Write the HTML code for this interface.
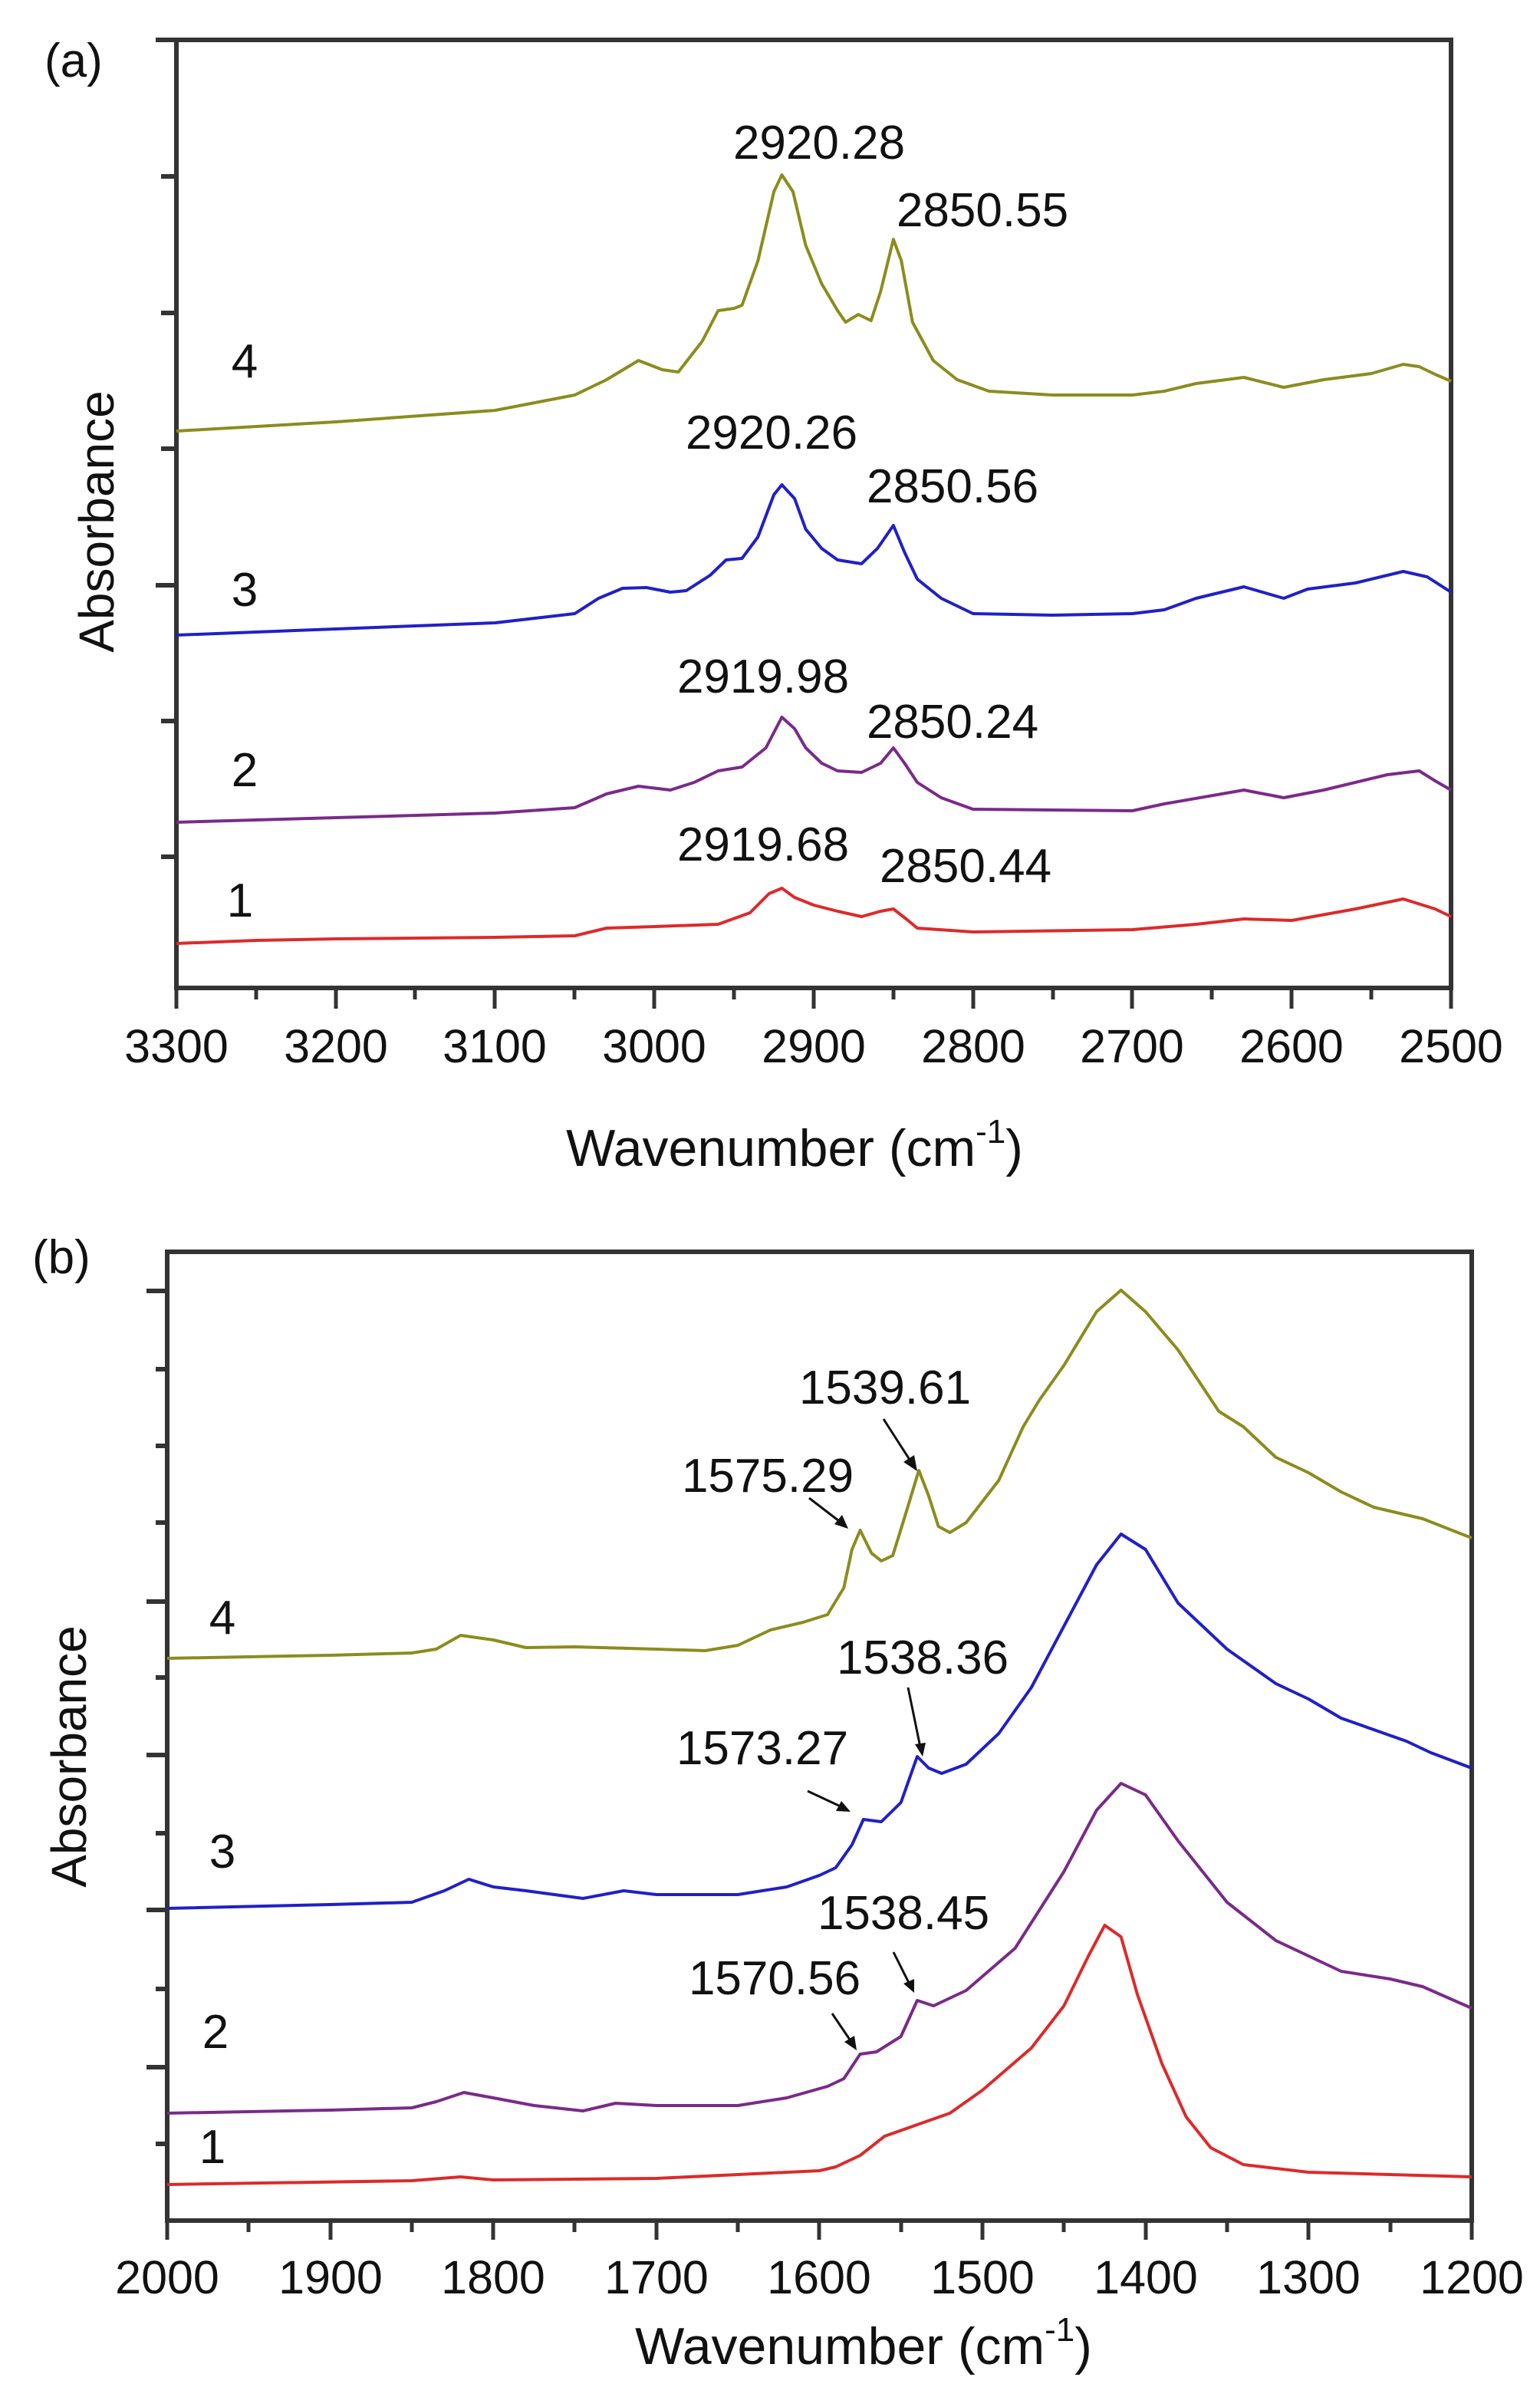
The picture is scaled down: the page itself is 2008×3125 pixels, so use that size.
<!DOCTYPE html>
<html><head><meta charset="utf-8"><style>
html,body{margin:0;padding:0;background:#fff;}
svg{display:block;}
text{font-family:"Liberation Sans",Arial,sans-serif;fill:#111;}
</style></head><body>
<svg width="2008" height="3125" viewBox="0 0 2008 3125" xmlns="http://www.w3.org/2000/svg">
<rect width="2008" height="3125" fill="#fff"/>

<!-- ===== Panel A ===== -->
<g stroke="#333" stroke-width="6" fill="none">
<rect x="230" y="52" width="1662" height="1236"/>
<line x1="203" y1="52" x2="230" y2="52"/>
<line x1="210" y1="230" x2="230" y2="230"/>
<line x1="210" y1="408" x2="230" y2="408"/>
<line x1="210" y1="585" x2="230" y2="585"/>
<line x1="203" y1="763" x2="230" y2="763"/>
<line x1="210" y1="940" x2="230" y2="940"/>
<line x1="210" y1="1117" x2="230" y2="1117"/>
</g>
<g stroke="#333" stroke-width="5">
<line x1="230" y1="1288" x2="230" y2="1315"/><line x1="334" y1="1288" x2="334" y2="1303"/>
<line x1="438" y1="1288" x2="438" y2="1315"/><line x1="541" y1="1288" x2="541" y2="1303"/>
<line x1="645" y1="1288" x2="645" y2="1315"/><line x1="749" y1="1288" x2="749" y2="1303"/>
<line x1="853" y1="1288" x2="853" y2="1315"/><line x1="957" y1="1288" x2="957" y2="1303"/>
<line x1="1061" y1="1288" x2="1061" y2="1315"/><line x1="1165" y1="1288" x2="1165" y2="1303"/>
<line x1="1269" y1="1288" x2="1269" y2="1315"/><line x1="1373" y1="1288" x2="1373" y2="1303"/>
<line x1="1476" y1="1288" x2="1476" y2="1315"/><line x1="1580" y1="1288" x2="1580" y2="1303"/>
<line x1="1684" y1="1288" x2="1684" y2="1315"/><line x1="1788" y1="1288" x2="1788" y2="1303"/>
<line x1="1892" y1="1288" x2="1892" y2="1315"/>
</g>
<g font-size="61" text-anchor="middle">
<text x="230" y="1385">3300</text><text x="438" y="1385">3200</text><text x="645" y="1385">3100</text>
<text x="853" y="1385">3000</text><text x="1061" y="1385">2900</text><text x="1269" y="1385">2800</text>
<text x="1476" y="1385">2700</text><text x="1684" y="1385">2600</text><text x="1892" y="1385">2500</text>
</g>
<text x="1036" y="1520" font-size="68" text-anchor="middle">Wavenumber (cm<tspan font-size="44" dy="-30">-1</tspan><tspan dy="30">)</tspan></text>
<text transform="translate(148,680) rotate(-90)" font-size="64" text-anchor="middle">Absorbance</text>
<text x="58" y="100" font-size="62">(a)</text>

<g transform="translate(230,0) scale(-2.0775,1) translate(-3300,0)" fill="none" stroke-width="4" stroke-linejoin="round">
<polyline vector-effect="non-scaling-stroke" stroke="#8c8c1e" points="3300,562 3200,550 3100,535 3050,515 3030,495 3010,470 2995,482 2985,485 2970,445 2960,405 2950,402 2945,398 2935,340 2925,250 2920,228 2913,250 2905,320 2895,370 2885,405 2880,420 2872,410 2864,418 2858,380 2850,312 2845,340 2838,420 2825,470 2810,495 2790,510 2750,515 2700,515 2680,510 2660,500 2630,492 2605,505 2580,495 2550,487 2530,475 2520,478 2510,488 2500,497"/>
<polyline vector-effect="non-scaling-stroke" stroke="#2020c8" points="3300,828 3200,820 3100,812 3050,800 3035,780 3020,767 3005,766 2990,772 2980,770 2965,750 2955,730 2945,728 2935,700 2925,645 2920,632 2912,650 2905,690 2895,715 2885,730 2870,735 2860,715 2850,685 2843,720 2835,755 2820,780 2800,800 2750,802 2700,800 2680,795 2660,780 2630,765 2605,780 2590,768 2560,760 2530,745 2515,752 2500,772"/>
<polyline vector-effect="non-scaling-stroke" stroke="#7a2a8a" points="3300,1072 3200,1066 3100,1060 3050,1053 3030,1035 3010,1025 2990,1030 2975,1020 2960,1005 2945,1000 2930,975 2920,935 2912,950 2905,975 2895,995 2885,1005 2870,1007 2858,995 2850,975 2843,995 2835,1020 2820,1040 2800,1055 2700,1057 2680,1048 2630,1030 2605,1040 2580,1030 2540,1010 2520,1005 2510,1018 2500,1030"/>
<polyline vector-effect="non-scaling-stroke" stroke="#dd2a2a" points="3300,1230 3250,1226 3200,1224 3100,1222 3050,1220 3030,1210 3000,1208 2960,1205 2940,1190 2928,1165 2920,1158 2912,1170 2900,1180 2885,1188 2870,1195 2858,1188 2850,1185 2842,1198 2835,1210 2800,1215 2700,1212 2660,1205 2630,1198 2600,1200 2560,1185 2530,1172 2510,1185 2500,1195"/>
</g>
<g font-size="62" text-anchor="middle">
<text x="1068" y="207">2920.28</text><text x="1281" y="295">2850.55</text>
<text x="1006" y="585">2920.26</text><text x="1242" y="655">2850.56</text>
<text x="995" y="903">2919.98</text><text x="1242" y="962">2850.24</text>
<text x="995" y="1122">2919.68</text><text x="1259" y="1150">2850.44</text>
<text x="319" y="492">4</text><text x="319" y="790">3</text><text x="319" y="1025">2</text><text x="313" y="1195">1</text>
</g>

<!-- ===== Panel B ===== -->
<g stroke="#333" stroke-width="6" fill="none">
<rect x="218" y="1632" width="1701" height="1263"/>
<line x1="191" y1="1683" x2="218" y2="1683"/>
<line x1="203" y1="1785" x2="218" y2="1785"/>
<line x1="203" y1="1885" x2="218" y2="1885"/>
<line x1="203" y1="1985" x2="218" y2="1985"/>
<line x1="191" y1="2088" x2="218" y2="2088"/>
<line x1="203" y1="2187" x2="218" y2="2187"/>
<line x1="191" y1="2288" x2="218" y2="2288"/>
<line x1="203" y1="2390" x2="218" y2="2390"/>
<line x1="191" y1="2490" x2="218" y2="2490"/>
<line x1="203" y1="2593" x2="218" y2="2593"/>
<line x1="191" y1="2695" x2="218" y2="2695"/>
<line x1="203" y1="2795" x2="218" y2="2795"/>
</g>
<g stroke="#333" stroke-width="5">
<line x1="218" y1="2895" x2="218" y2="2920"/><line x1="324" y1="2895" x2="324" y2="2910"/>
<line x1="431" y1="2895" x2="431" y2="2920"/><line x1="537" y1="2895" x2="537" y2="2910"/>
<line x1="643" y1="2895" x2="643" y2="2920"/><line x1="749" y1="2895" x2="749" y2="2910"/>
<line x1="856" y1="2895" x2="856" y2="2920"/><line x1="962" y1="2895" x2="962" y2="2910"/>
<line x1="1068" y1="2895" x2="1068" y2="2920"/><line x1="1175" y1="2895" x2="1175" y2="2910"/>
<line x1="1281" y1="2895" x2="1281" y2="2920"/><line x1="1387" y1="2895" x2="1387" y2="2910"/>
<line x1="1494" y1="2895" x2="1494" y2="2920"/><line x1="1600" y1="2895" x2="1600" y2="2910"/>
<line x1="1706" y1="2895" x2="1706" y2="2920"/><line x1="1813" y1="2895" x2="1813" y2="2910"/>
<line x1="1919" y1="2895" x2="1919" y2="2920"/>
</g>
<g font-size="61" text-anchor="middle">
<text x="218" y="2990">2000</text><text x="431" y="2990">1900</text><text x="643" y="2990">1800</text>
<text x="856" y="2990">1700</text><text x="1068" y="2990">1600</text><text x="1281" y="2990">1500</text>
<text x="1494" y="2990">1400</text><text x="1706" y="2990">1300</text><text x="1919" y="2990">1200</text>
</g>
<text x="1126" y="3082" font-size="68" text-anchor="middle">Wavenumber (cm<tspan font-size="44" dy="-30">-1</tspan><tspan dy="30">)</tspan></text>
<text transform="translate(112,2290) rotate(-90)" font-size="64" text-anchor="middle">Absorbance</text>
<text x="42" y="1660" font-size="62">(b)</text>

<g transform="translate(218,1560) scale(-2.126,1) translate(-2000,0)" fill="none" stroke-width="4" stroke-linejoin="round">
<polyline vector-effect="non-scaling-stroke" stroke="#8c8c1e" points="2000,602 1900,598 1850,595 1835,590 1820,572 1800,578 1780,588 1750,587 1700,590 1670,592 1650,585 1630,565 1610,555 1595,545 1585,510 1580,460 1575,435 1568,465 1562,475 1555,468 1548,420 1539,357 1533,390 1527,430 1520,438 1510,425 1490,370 1475,300 1465,265 1450,220 1430,150 1415,122 1400,150 1380,200 1355,280 1340,300 1320,340 1300,360 1280,385 1260,405 1240,415 1230,420 1200,445"/>
<polyline vector-effect="non-scaling-stroke" stroke="#2020c8" points="2000,928 1900,923 1850,920 1830,905 1815,890 1800,900 1780,905 1745,915 1720,905 1700,910 1650,910 1620,900 1600,885 1590,875 1580,845 1573,812 1562,815 1550,790 1540,730 1533,745 1525,752 1510,740 1490,700 1470,640 1450,560 1430,480 1415,440 1400,460 1380,530 1350,590 1320,635 1300,655 1280,680 1260,695 1240,710 1225,725 1200,745"/>
<polyline vector-effect="non-scaling-stroke" stroke="#7a2a8a" points="2000,1195 1900,1191 1850,1188 1835,1180 1818,1168 1800,1175 1775,1185 1745,1192 1725,1182 1700,1185 1650,1185 1620,1175 1595,1160 1585,1150 1575,1118 1565,1115 1550,1095 1540,1048 1530,1055 1510,1035 1480,980 1450,880 1430,800 1415,765 1400,780 1380,840 1350,920 1320,970 1300,990 1280,1010 1250,1020 1230,1030 1200,1058"/>
<polyline vector-effect="non-scaling-stroke" stroke="#dd2a2a" points="2000,1288 1850,1283 1820,1278 1800,1282 1700,1280 1650,1275 1600,1270 1590,1265 1575,1250 1560,1225 1540,1210 1520,1195 1500,1165 1470,1110 1450,1055 1435,990 1425,950 1415,965 1405,1040 1390,1130 1375,1200 1360,1240 1340,1262 1300,1272 1250,1275 1200,1278"/>
</g>
<g stroke="#111" stroke-width="3">
<line x1="1152" y1="1850" x2="1188" y2="1906"/><line x1="1055" y1="1953" x2="1098" y2="1986"/>
<line x1="1184" y1="2200" x2="1200" y2="2278"/><line x1="1053" y1="2335" x2="1098" y2="2356"/>
<line x1="1165" y1="2545" x2="1186" y2="2587"/><line x1="1085" y1="2625" x2="1110" y2="2662"/>
</g>
<g fill="#111">
<polygon points="1196,1918 1178,1906 1192,1897"/>
<polygon points="1106,1993 1088,1987 1098,1975"/>
<polygon points="1203,2290 1193,2274 1207,2272"/>
<polygon points="1109,2362 1090,2361 1097,2348"/>
<polygon points="1192,2598 1178,2586 1192,2580"/>
<polygon points="1117,2673 1101,2662 1114,2654"/>
</g>
<g font-size="62" text-anchor="middle">
<text x="1154" y="1830">1539.61</text><text x="1001" y="1945">1575.29</text>
<text x="1203" y="2182">1538.36</text><text x="994" y="2300">1573.27</text>
<text x="1178" y="2515">1538.45</text><text x="1010" y="2600">1570.56</text>
<text x="290" y="2130">4</text><text x="290" y="2435">3</text><text x="281" y="2670">2</text><text x="277" y="2820">1</text>
</g>
</svg>
</body></html>
